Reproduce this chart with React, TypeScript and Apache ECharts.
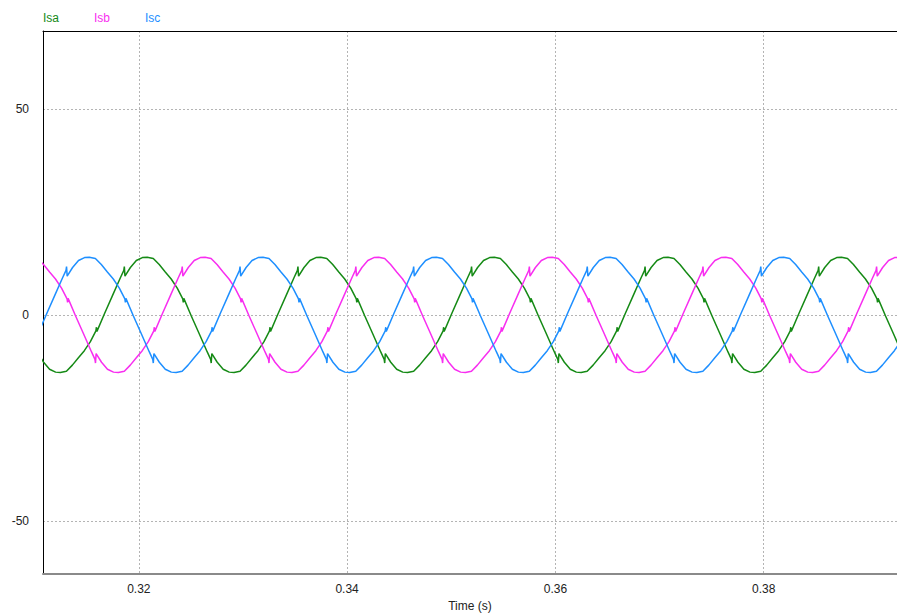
import React, { useEffect, useRef } from "react";
import * as echarts from "echarts";

// Time axis ticks (s) and current axis ticks (A)
const timeTicks = [0.32, 0.34, 0.36, 0.38];
const currentTicks = [-50, 0, 50];
const seriesNames = ["Isa", "Isb", "Isc"];
const seriesColors = ["#158a15", "#f82ef0", "#1e8fff"];

// [time (s), current (A)]
const isaData = [
  [0.31034, -9.4], [0.31086, -11.5], [0.31143, -13.2], [0.31201, -13.9],
  [0.31247, -14.0], [0.31305, -13.7], [0.31362, -12.2], [0.3142, -10.4], [0.31477, -8.7], [0.31535, -6.5],
  [0.31588, -3.9], [0.31593, -3.0], [0.31598, -4.0], [0.31669, 0.2], [0.31746, 4.6], [0.31823, 9.0],
  [0.31856, 10.8], [0.31861, 11.7], [0.31867, 9.4], [0.31919, 11.5], [0.31976, 13.2], [0.32034, 13.9],
  [0.32081, 14.0], [0.32139, 13.7], [0.32196, 12.2], [0.32254, 10.4], [0.32311, 8.7], [0.32369, 6.5],
  [0.32422, 3.9], [0.32427, 3.0], [0.32432, 4.0], [0.32503, -0.2], [0.3258, -4.6], [0.32657, -9.0],
  [0.3269, -10.8], [0.32695, -11.7], [0.32701, -9.4], [0.32753, -11.5], [0.3281, -13.2], [0.32868, -13.9],
  [0.32914, -14.0], [0.32972, -13.7], [0.33029, -12.2], [0.33087, -10.4], [0.33144, -8.7], [0.33202, -6.5],
  [0.33255, -3.9], [0.3326, -3.0], [0.33265, -4.0], [0.33336, 0.2], [0.33413, 4.6], [0.3349, 9.0],
  [0.33523, 10.8], [0.33528, 11.7], [0.33534, 9.4], [0.33586, 11.5], [0.33643, 13.2], [0.33701, 13.9],
  [0.33747, 14.0], [0.33805, 13.7], [0.33862, 12.2], [0.3392, 10.4], [0.33977, 8.7], [0.34035, 6.5],
  [0.34088, 3.9], [0.34093, 3.0], [0.34098, 4.0], [0.34169, -0.2], [0.34246, -4.6], [0.34323, -9.0],
  [0.34356, -10.8], [0.34361, -11.7], [0.34367, -9.4], [0.34419, -11.5], [0.34476, -13.2], [0.34534, -13.9],
  [0.34581, -14.0], [0.34639, -13.7], [0.34696, -12.2], [0.34754, -10.4], [0.34811, -8.7], [0.34869, -6.5],
  [0.34922, -3.9], [0.34927, -3.0], [0.34932, -4.0], [0.35003, 0.2], [0.3508, 4.6], [0.35157, 9.0],
  [0.3519, 10.8], [0.35195, 11.7], [0.35201, 9.4], [0.35253, 11.5], [0.3531, 13.2], [0.35368, 13.9],
  [0.35414, 14.0], [0.35472, 13.7], [0.35529, 12.2], [0.35587, 10.4], [0.35644, 8.7], [0.35702, 6.5],
  [0.35755, 3.9], [0.3576, 3.0], [0.35765, 4.0], [0.35836, -0.2], [0.35913, -4.6], [0.3599, -9.0],
  [0.36023, -10.8], [0.36028, -11.7], [0.36034, -9.4], [0.36086, -11.5], [0.36143, -13.2], [0.36201, -13.9],
  [0.36247, -14.0], [0.36305, -13.7], [0.36362, -12.2], [0.3642, -10.4], [0.36477, -8.7], [0.36535, -6.5],
  [0.36588, -3.9], [0.36593, -3.0], [0.36598, -4.0], [0.36669, 0.2], [0.36746, 4.6], [0.36823, 9.0],
  [0.36856, 10.8], [0.36861, 11.7], [0.36867, 9.4], [0.36919, 11.5], [0.36976, 13.2], [0.37034, 13.9],
  [0.37081, 14.0], [0.37139, 13.7], [0.37196, 12.2], [0.37254, 10.4], [0.37311, 8.7], [0.37369, 6.5],
  [0.37422, 3.9], [0.37427, 3.0], [0.37432, 4.0], [0.37503, -0.2], [0.3758, -4.6], [0.37657, -9.0],
  [0.3769, -10.8], [0.37695, -11.7], [0.37701, -9.4], [0.37753, -11.5], [0.3781, -13.2], [0.37868, -13.9],
  [0.37914, -14.0], [0.37972, -13.7], [0.38029, -12.2], [0.38087, -10.4], [0.38144, -8.7], [0.38202, -6.5],
  [0.38255, -3.9], [0.3826, -3.0], [0.38265, -4.0], [0.38336, 0.2], [0.38413, 4.6], [0.3849, 9.0],
  [0.38523, 10.8], [0.38528, 11.7], [0.38534, 9.4], [0.38586, 11.5], [0.38643, 13.2], [0.38701, 13.9],
  [0.38747, 14.0], [0.38805, 13.7], [0.38862, 12.2], [0.3892, 10.4], [0.38977, 8.7], [0.39035, 6.5],
  [0.39088, 3.9], [0.39093, 3.0], [0.39098, 4.0], [0.39169, -0.2], [0.39246, -4.6], [0.39323, -9.0],
];

const isbData = [
  [0.3097, 14.0], [0.31028, 13.7], [0.31085, 12.2], [0.31143, 10.4], [0.312, 8.7], [0.31258, 6.5],
  [0.31311, 3.9], [0.31316, 3.0], [0.31321, 4.0], [0.31392, -0.2], [0.31469, -4.6], [0.31546, -9.0],
  [0.31579, -10.8], [0.31584, -11.7], [0.3159, -9.4], [0.31642, -11.5], [0.31699, -13.2], [0.31757, -13.9],
  [0.31803, -14.0], [0.31861, -13.7], [0.31918, -12.2], [0.31976, -10.4], [0.32033, -8.7], [0.32091, -6.5],
  [0.32144, -3.9], [0.32149, -3.0], [0.32154, -4.0], [0.32225, 0.2], [0.32302, 4.6], [0.32379, 9.0],
  [0.32412, 10.8], [0.32417, 11.7], [0.32423, 9.4], [0.32475, 11.5], [0.32532, 13.2], [0.3259, 13.9],
  [0.32636, 14.0], [0.32694, 13.7], [0.32751, 12.2], [0.32809, 10.4], [0.32866, 8.7], [0.32924, 6.5],
  [0.32977, 3.9], [0.32982, 3.0], [0.32987, 4.0], [0.33058, -0.2], [0.33135, -4.6], [0.33212, -9.0],
  [0.33245, -10.8], [0.3325, -11.7], [0.33256, -9.4], [0.33308, -11.5], [0.33365, -13.2], [0.33423, -13.9],
  [0.3347, -14.0], [0.33528, -13.7], [0.33585, -12.2], [0.33643, -10.4], [0.337, -8.7], [0.33758, -6.5],
  [0.33811, -3.9], [0.33816, -3.0], [0.33821, -4.0], [0.33892, 0.2], [0.33969, 4.6], [0.34046, 9.0],
  [0.34079, 10.8], [0.34084, 11.7], [0.3409, 9.4], [0.34142, 11.5], [0.34199, 13.2], [0.34257, 13.9],
  [0.34303, 14.0], [0.34361, 13.7], [0.34418, 12.2], [0.34476, 10.4], [0.34533, 8.7], [0.34591, 6.5],
  [0.34644, 3.9], [0.34649, 3.0], [0.34654, 4.0], [0.34725, -0.2], [0.34802, -4.6], [0.34879, -9.0],
  [0.34912, -10.8], [0.34917, -11.7], [0.34923, -9.4], [0.34975, -11.5], [0.35032, -13.2], [0.3509, -13.9],
  [0.35136, -14.0], [0.35194, -13.7], [0.35251, -12.2], [0.35309, -10.4], [0.35366, -8.7], [0.35424, -6.5],
  [0.35477, -3.9], [0.35482, -3.0], [0.35487, -4.0], [0.35558, 0.2], [0.35635, 4.6], [0.35712, 9.0],
  [0.35745, 10.8], [0.3575, 11.7], [0.35756, 9.4], [0.35808, 11.5], [0.35865, 13.2], [0.35923, 13.9],
  [0.3597, 14.0], [0.36028, 13.7], [0.36085, 12.2], [0.36143, 10.4], [0.362, 8.7], [0.36258, 6.5],
  [0.36311, 3.9], [0.36316, 3.0], [0.36321, 4.0], [0.36392, -0.2], [0.36469, -4.6], [0.36546, -9.0],
  [0.36579, -10.8], [0.36584, -11.7], [0.3659, -9.4], [0.36642, -11.5], [0.36699, -13.2], [0.36757, -13.9],
  [0.36803, -14.0], [0.36861, -13.7], [0.36918, -12.2], [0.36976, -10.4], [0.37033, -8.7], [0.37091, -6.5],
  [0.37144, -3.9], [0.37149, -3.0], [0.37154, -4.0], [0.37225, 0.2], [0.37302, 4.6], [0.37379, 9.0],
  [0.37412, 10.8], [0.37417, 11.7], [0.37423, 9.4], [0.37475, 11.5], [0.37532, 13.2], [0.3759, 13.9],
  [0.37636, 14.0], [0.37694, 13.7], [0.37751, 12.2], [0.37809, 10.4], [0.37866, 8.7], [0.37924, 6.5],
  [0.37977, 3.9], [0.37982, 3.0], [0.37987, 4.0], [0.38058, -0.2], [0.38135, -4.6], [0.38212, -9.0],
  [0.38245, -10.8], [0.3825, -11.7], [0.38256, -9.4], [0.38308, -11.5], [0.38365, -13.2], [0.38423, -13.9],
  [0.3847, -14.0], [0.38528, -13.7], [0.38585, -12.2], [0.38643, -10.4], [0.387, -8.7], [0.38758, -6.5],
  [0.38811, -3.9], [0.38816, -3.0], [0.38821, -4.0], [0.38892, 0.2], [0.38969, 4.6], [0.39046, 9.0],
  [0.39079, 10.8], [0.39084, 11.7], [0.3909, 9.4], [0.39142, 11.5], [0.39199, 13.2], [0.39257, 13.9],
  [0.39303, 14.0],
];

const iscData = [
  [0.31043, -4.0], [0.31114, 0.2], [0.31191, 4.6], [0.31268, 9.0],
  [0.31301, 10.8], [0.31306, 11.7], [0.31312, 9.4], [0.31364, 11.5], [0.31421, 13.2], [0.31479, 13.9],
  [0.31525, 14.0], [0.31583, 13.7], [0.3164, 12.2], [0.31698, 10.4], [0.31755, 8.7], [0.31813, 6.5],
  [0.31866, 3.9], [0.31871, 3.0], [0.31876, 4.0], [0.31947, -0.2], [0.32024, -4.6], [0.32101, -9.0],
  [0.32134, -10.8], [0.32139, -11.7], [0.32145, -9.4], [0.32197, -11.5], [0.32254, -13.2], [0.32312, -13.9],
  [0.32358, -14.0], [0.32416, -13.7], [0.32473, -12.2], [0.32531, -10.4], [0.32588, -8.7], [0.32646, -6.5],
  [0.32699, -3.9], [0.32704, -3.0], [0.32709, -4.0], [0.3278, 0.2], [0.32857, 4.6], [0.32934, 9.0],
  [0.32967, 10.8], [0.32972, 11.7], [0.32978, 9.4], [0.3303, 11.5], [0.33087, 13.2], [0.33145, 13.9],
  [0.33192, 14.0], [0.3325, 13.7], [0.33307, 12.2], [0.33365, 10.4], [0.33422, 8.7], [0.3348, 6.5],
  [0.33533, 3.9], [0.33538, 3.0], [0.33543, 4.0], [0.33614, -0.2], [0.33691, -4.6], [0.33768, -9.0],
  [0.33801, -10.8], [0.33806, -11.7], [0.33812, -9.4], [0.33864, -11.5], [0.33921, -13.2], [0.33979, -13.9],
  [0.34025, -14.0], [0.34083, -13.7], [0.3414, -12.2], [0.34198, -10.4], [0.34255, -8.7], [0.34313, -6.5],
  [0.34366, -3.9], [0.34371, -3.0], [0.34376, -4.0], [0.34447, 0.2], [0.34524, 4.6], [0.34601, 9.0],
  [0.34634, 10.8], [0.34639, 11.7], [0.34645, 9.4], [0.34697, 11.5], [0.34754, 13.2], [0.34812, 13.9],
  [0.34858, 14.0], [0.34916, 13.7], [0.34973, 12.2], [0.35031, 10.4], [0.35088, 8.7], [0.35146, 6.5],
  [0.35199, 3.9], [0.35204, 3.0], [0.35209, 4.0], [0.3528, -0.2], [0.35357, -4.6], [0.35434, -9.0],
  [0.35467, -10.8], [0.35472, -11.7], [0.35478, -9.4], [0.3553, -11.5], [0.35587, -13.2], [0.35645, -13.9],
  [0.35692, -14.0], [0.3575, -13.7], [0.35807, -12.2], [0.35865, -10.4], [0.35922, -8.7], [0.3598, -6.5],
  [0.36033, -3.9], [0.36038, -3.0], [0.36043, -4.0], [0.36114, 0.2], [0.36191, 4.6], [0.36268, 9.0],
  [0.36301, 10.8], [0.36306, 11.7], [0.36312, 9.4], [0.36364, 11.5], [0.36421, 13.2], [0.36479, 13.9],
  [0.36525, 14.0], [0.36583, 13.7], [0.3664, 12.2], [0.36698, 10.4], [0.36755, 8.7], [0.36813, 6.5],
  [0.36866, 3.9], [0.36871, 3.0], [0.36876, 4.0], [0.36947, -0.2], [0.37024, -4.6], [0.37101, -9.0],
  [0.37134, -10.8], [0.37139, -11.7], [0.37145, -9.4], [0.37197, -11.5], [0.37254, -13.2], [0.37312, -13.9],
  [0.37358, -14.0], [0.37416, -13.7], [0.37473, -12.2], [0.37531, -10.4], [0.37588, -8.7], [0.37646, -6.5],
  [0.37699, -3.9], [0.37704, -3.0], [0.37709, -4.0], [0.3778, 0.2], [0.37857, 4.6], [0.37934, 9.0],
  [0.37967, 10.8], [0.37972, 11.7], [0.37978, 9.4], [0.3803, 11.5], [0.38087, 13.2], [0.38145, 13.9],
  [0.38192, 14.0], [0.3825, 13.7], [0.38307, 12.2], [0.38365, 10.4], [0.38422, 8.7], [0.3848, 6.5],
  [0.38533, 3.9], [0.38538, 3.0], [0.38543, 4.0], [0.38614, -0.2], [0.38691, -4.6], [0.38768, -9.0],
  [0.38801, -10.8], [0.38806, -11.7], [0.38812, -9.4], [0.38864, -11.5], [0.38921, -13.2], [0.38979, -13.9],
  [0.39025, -14.0], [0.39083, -13.7], [0.3914, -12.2], [0.39198, -10.4], [0.39255, -8.7], [0.39313, -6.5],
];

const X_MIN = 0.3108;
const X_MAX = 0.3928;
const Y_MIN = -62.9;
const Y_MAX = 68.9;

const FONT = "'Liberation Sans', Arial, Helvetica, sans-serif";

export default function App() {
  const ref = useRef<HTMLDivElement>(null);

  useEffect(() => {
    if (!ref.current) return;
    const chart = echarts.init(ref.current, undefined, { renderer: "svg" });
    const datas = [isaData, isbData, iscData];
    const gridLine = { show: true, lineStyle: { color: "#b4b4b4", type: [2, 2] as any, width: 1 } };
    chart.setOption({
      animation: false,
      backgroundColor: "#ffffff",
      textStyle: { fontFamily: FONT },
      legend: {
        left: 33,
        top: 7,
        itemWidth: 0,
        itemHeight: 0,
        itemGap: 30,
        icon: "rect",
        textStyle: { fontSize: 12, fontFamily: FONT },
        data: seriesNames.map((n, i) => ({ name: n, textStyle: { color: seriesColors[i] } })),
      },
      grid: {
        left: 43,
        right: 0,
        top: 31,
        bottom: 40,
        containLabel: false,
        outerBoundsMode: "none",
      },
      xAxis: [
        {
          type: "value",
          min: X_MIN,
          max: X_MAX,
          name: "Time (s)",
          nameLocation: "middle",
          nameGap: 24,
          nameTextStyle: { color: "#222", fontSize: 12, fontFamily: FONT },
          axisLine: { show: true, onZero: false, lineStyle: { color: "#8a8a8a", width: 2 } },
          axisTick: { show: false, customValues: timeTicks },
          axisLabel: {
            customValues: timeTicks,
            color: "#222",
            fontSize: 12,
            margin: 9,
            formatter: (v: number) => v.toFixed(2),
          },
          splitLine: gridLine,
        },
        {
          type: "value",
          position: "top",
          min: X_MIN,
          max: X_MAX,
          axisLine: { show: true, onZero: false, lineStyle: { color: "#000", width: 1 } },
          axisTick: { show: false },
          axisLabel: { show: false },
          splitLine: { show: false },
        },
      ],
      yAxis: {
        type: "value",
        min: Y_MIN,
        max: Y_MAX,
        axisLine: { show: true, onZero: false, lineStyle: { color: "#000", width: 1 } },
        axisTick: { show: false, customValues: currentTicks },
        axisLabel: { customValues: currentTicks, color: "#222", fontSize: 12, margin: 14 },
        splitLine: gridLine,
      },
      series: seriesNames.map((n, i) => ({
        name: n,
        type: "line",
        xAxisIndex: 0,
        data: datas[i],
        showSymbol: false,
        symbol: "none",
        lineStyle: { color: seriesColors[i], width: 1.5 },
        itemStyle: { color: seriesColors[i] },
        clip: true,
      })),
    });
    return () => chart.dispose();
  }, []);

  return <div ref={ref} style={{ width: 897, height: 614, position: "absolute", left: 0, top: 0 }} />;
}
